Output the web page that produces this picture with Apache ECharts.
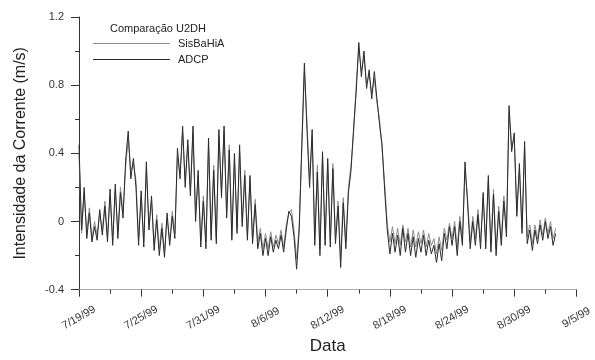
<!DOCTYPE html>
<html>
<head>
<meta charset="utf-8">
<script src="https://cdn.jsdelivr.net/npm/echarts@6/dist/echarts.min.js"></script>
<style>
  html, body { margin: 0; padding: 0; background: #fff; }
  #chart { width: 595px; height: 360px; }
</style>
</head>
<body>
<div id="chart"></div>
<script>
// days since 7/19/99, one sample every 6 hours
const stepDays = 0.25;
const tickLabels = ['7/19/99', '7/25/99', '7/31/99', '8/6/99', '8/12/99', '8/18/99', '8/24/99', '8/30/99', '9/5/99'];
const seriesNames = ['SisBaHiA', 'ADCP'];

const adcp = [
    0.45, -0.05, 0.2, -0.1, 0.05, -0.12, -0.03, -0.11,
    0.07, -0.08, 0.09, -0.12, 0.19, -0.14, 0.22, -0.1,
    0.17, 0.02, 0.36, 0.53, 0.25, 0.37, 0.2, -0.14,
    0.18, -0.15, 0.35, -0.05, 0.15, -0.17, 0.01, -0.2,
    -0.04, -0.21, 0.05, -0.14, 0.03, -0.1, 0.43, 0.25,
    0.56, 0.2, 0.48, 0.15, 0.56, 0.0, 0.3, -0.15,
    0.12, -0.16, 0.49, -0.11, 0.3, -0.13, 0.54, 0.14,
    0.56, 0.02, 0.42, -0.11, 0.4, -0.07, 0.45, -0.03,
    0.27, -0.11, 0.27, -0.13, 0.1, -0.16, -0.07, -0.2,
    -0.1, -0.2, -0.09, -0.18, -0.11, -0.16, -0.08, -0.18,
    -0.05, 0.06, 0.03, -0.09, -0.28, -0.05, 0.45, 0.93,
    0.54, 0.2, 0.54, -0.14, 0.29, -0.2, 0.41, -0.14,
    0.37, -0.15, 0.31, -0.13, 0.09, -0.27, 0.11, -0.16,
    0.17, 0.3, 0.55, 0.76, 1.05, 0.85, 1.0, 0.78,
    0.89, 0.72, 0.88, 0.72, 0.57, 0.45, 0.18, -0.05,
    -0.19, -0.07, -0.18, -0.08, -0.2, -0.04, -0.18, -0.07,
    -0.2, -0.09, -0.21, -0.1, -0.18, -0.08, -0.2, -0.11,
    -0.19, -0.14, -0.24, -0.13, -0.23, -0.07, -0.16, -0.03,
    -0.14, -0.03, -0.2, 0.0, -0.14, 0.35, 0.1, -0.16,
    0.0, -0.14, 0.04, -0.16, 0.17, -0.16, 0.27, -0.18,
    0.16, -0.2, 0.06, -0.14, 0.12, -0.09, 0.68, 0.41,
    0.52, 0.03, 0.34, -0.07, 0.47, -0.13, -0.05, -0.17,
    -0.05, -0.13, -0.02, -0.11, 0.0, -0.1, -0.03, -0.14, -0.07
];

const sisbahia = [
    0.4, -0.07, 0.16, -0.06, 0.08, -0.1, 0.0, -0.08,
    0.05, -0.06, 0.12, -0.09, 0.15, -0.11, 0.18, -0.06,
    0.2, 0.05, 0.32, 0.48, 0.3, 0.34, 0.24, -0.1,
    0.15, -0.12, 0.3, -0.02, 0.12, -0.14, 0.04, -0.16,
    -0.01, -0.18, 0.02, -0.11, 0.06, -0.07, 0.38, 0.28,
    0.52, 0.24, 0.45, 0.18, 0.52, 0.04, 0.27, -0.11,
    0.15, -0.12, 0.45, -0.08, 0.33, -0.1, 0.5, 0.17,
    0.53, 0.05, 0.45, -0.08, 0.36, -0.04, 0.41, 0.0,
    0.3, -0.08, 0.24, -0.1, 0.13, -0.12, -0.04, -0.16,
    -0.07, -0.16, -0.06, -0.15, -0.08, -0.13, -0.05, -0.15,
    -0.02, 0.05, 0.07, -0.05, -0.22, -0.02, 0.42, 0.88,
    0.58, 0.25, 0.5, -0.1, 0.33, -0.16, 0.38, -0.1,
    0.34, -0.11, 0.34, -0.1, 0.12, -0.22, 0.14, -0.12,
    0.2, 0.33, 0.52, 0.8, 1.02, 0.88, 0.97, 0.81,
    0.86, 0.75, 0.84, 0.7, 0.6, 0.42, 0.22, -0.02,
    -0.12, -0.03, -0.13, -0.04, -0.14, -0.02, -0.12, -0.04,
    -0.15, -0.05, -0.15, -0.06, -0.13, -0.05, -0.15, -0.07,
    -0.14, -0.1, -0.19, -0.09, -0.17, -0.04, -0.11, -0.01,
    -0.1, 0.0, -0.15, 0.03, -0.1, 0.3, 0.14, -0.12,
    0.03, -0.1, 0.07, -0.12, 0.14, -0.12, 0.24, -0.14,
    0.19, -0.16, 0.09, -0.1, 0.15, -0.05, 0.64, 0.45,
    0.48, 0.06, 0.3, -0.04, 0.43, -0.09, -0.02, -0.13,
    -0.02, -0.1, 0.01, -0.08, 0.02, -0.07, 0.0, -0.1, -0.04
];

const font = "'Liberation Sans', Arial, sans-serif";

function pares(vals) {
    return vals.map((v, i) => [i * stepDays, v]);
}

function desenhar() {
    const el = document.getElementById('chart');
    const chart = echarts.init(el);
    const option = {
        animation: false,
        textStyle: { fontFamily: font },
        title: {
            text: 'Comparação U2DH',
            left: 110, top: 23, padding: 0,
            textStyle: { fontSize: 11, fontWeight: 'normal', color: '#222', fontFamily: font }
        },
        legend: {
            data: seriesNames,
            orient: 'vertical',
            left: 93, top: 38, padding: 0,
            icon: 'rect',
            itemWidth: 77, itemHeight: 1, itemGap: 5,
            textStyle: { fontSize: 11, color: '#222', fontFamily: font, padding: [0, 0, 0, 3] }
        },
        grid: { left: 79, right: 16, top: 17, bottom: 62 },
        xAxis: {
            type: 'value', min: 0, max: 48, interval: 6,
            axisLine: { onZero: false, lineStyle: { color: '#aaa', width: 1 } },
            axisTick: { length: 7, lineStyle: { color: '#333' } },
            minorTick: { show: true, splitNumber: 2, length: 4, lineStyle: { color: '#333' } },
            splitLine: { show: false },
            axisLabel: {
                rotate: 30, align: 'center', verticalAlign: 'middle', margin: 28,
                fontSize: 11, color: '#333', fontFamily: font,
                formatter: v => tickLabels[Math.round(v / 6)]
            },
            name: 'Data', nameLocation: 'middle', nameGap: 46,
            nameTextStyle: { fontSize: 17, color: '#222', fontFamily: font }
        },
        yAxis: {
            type: 'value', min: -0.4, max: 1.2, interval: 0.4,
            axisLine: { show: true, lineStyle: { color: '#333', width: 1 } },
            axisTick: { length: 8, lineStyle: { color: '#333' } },
            minorTick: { show: true, splitNumber: 2, length: 4, lineStyle: { color: '#333' } },
            splitLine: { show: false },
            axisLabel: { margin: 15, fontSize: 11, color: '#333', fontFamily: font },
            name: 'Intensidade da Corrente (m/s)', nameLocation: 'middle', nameGap: 50,
            nameTextStyle: { fontSize: 16, color: '#222', fontFamily: font }
        },
        series: [{
            name: 'SisBaHiA',
            type: 'line',
            symbol: 'none',
            color: '#8c8c8c',
            lineStyle: { width: 1 },
            data: pares(sisbahia)
        }, {
            name: 'ADCP',
            type: 'line',
            symbol: 'none',
            color: '#2a2a2a',
            lineStyle: { width: 1 },
            data: pares(adcp)
        }]
    };
    chart.setOption(option);
}

desenhar();
</script>
</body>
</html>
